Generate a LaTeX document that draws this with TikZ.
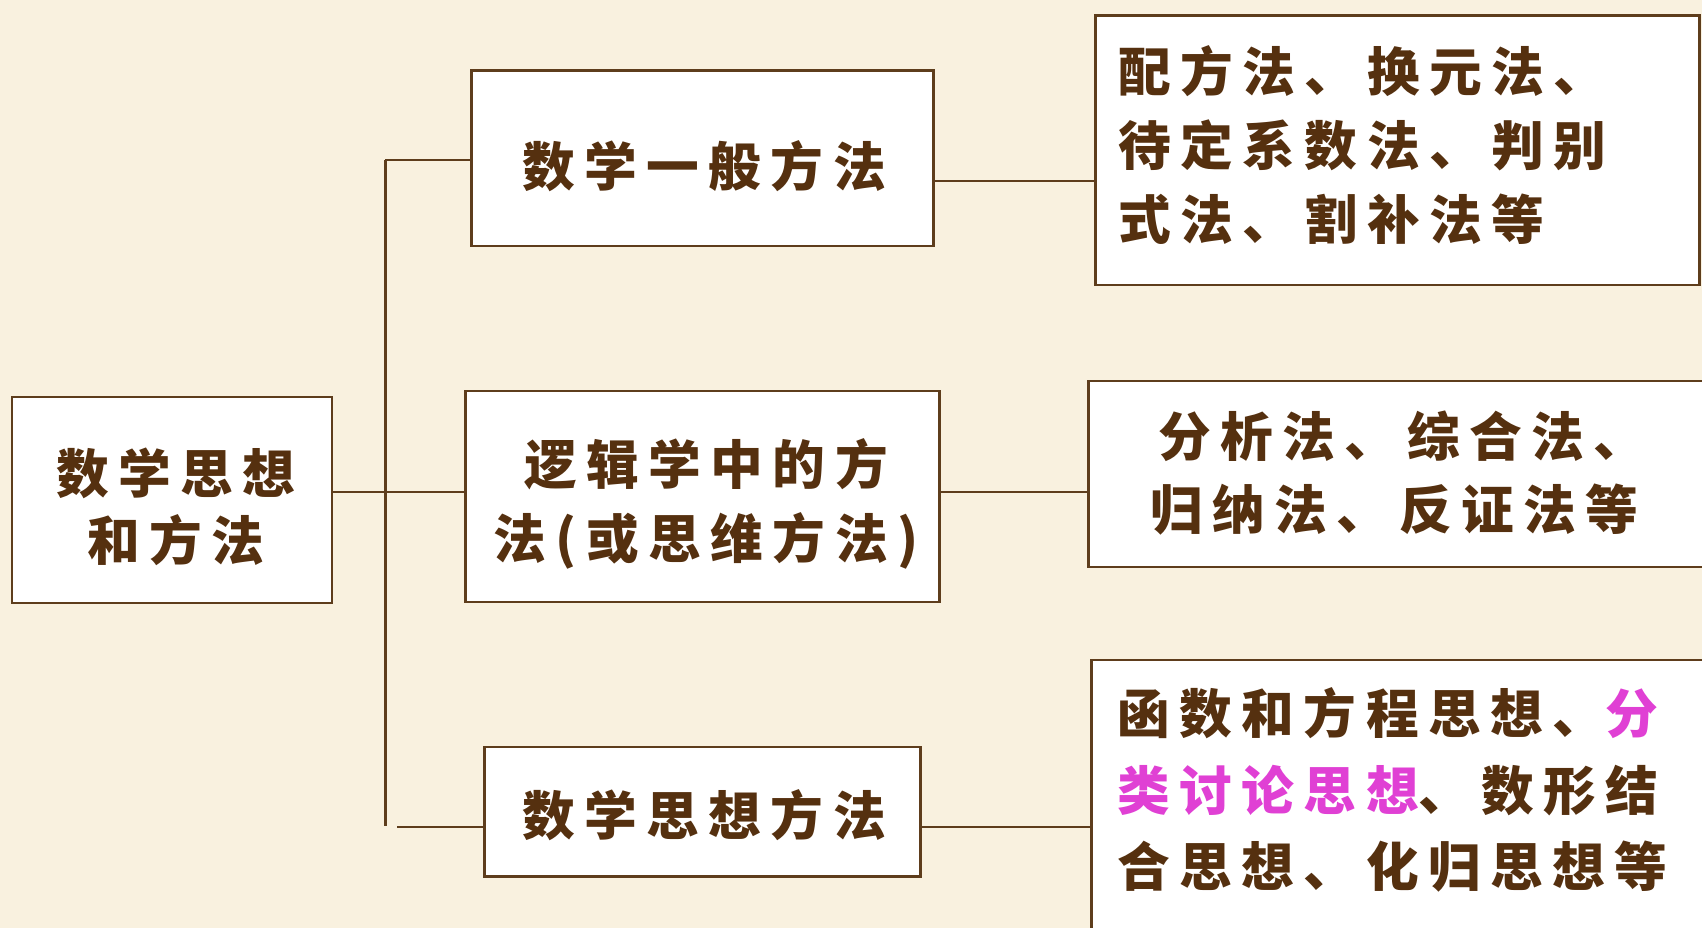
\documentclass[tikz,border=0pt]{standalone}
\usepackage{fontspec}
\usetikzlibrary{fit}
\newfontfamily\cjk[LetterSpace=18]{Noto Sans CJK SC}
\definecolor{bg}{HTML}{F9F1DF}
\definecolor{ln}{HTML}{5E3D1C}
\definecolor{tx}{HTML}{55300F}
\definecolor{mg}{HTML}{E040D4}
\tikzset{
  boxst/.style={draw=ln, fill=white, line width=1.7pt, inner sep=0pt},
  txt/.style={inner sep=0pt, text=tx, font=\cjk\bfseries\fontsize{30}{42}\selectfont},
  conn/.style={draw=ln, line width=1.7pt}
}
\begin{document}
\begin{tikzpicture}[x=0.02cm, y=-0.02cm]
\useasboundingbox (0,0) rectangle (1702,928);
\fill[bg] (0,0) rectangle (1702,928);
\clip (0,0) rectangle (1702,928);
% boxes
\node[boxst, fit={(12,397) (332,603)}] (root) {};
\node[boxst, fit={(471,71) (933,246)}] (b1) {};
\node[boxst, fit={(465,391) (939,602)}] (b2) {};
\node[boxst, fit={(484,747) (920,876)}] (b3) {};
\node[boxst, fit={(1095,16) (1699,285)}] (r1) {};
\node[boxst, fit={(1088,381) (1730,567)}] (r2) {};
\node[boxst, fit={(1091,660) (1730,960)}] (r3) {};
% junction coordinates
\coordinate (tTop) at (385,160);
\coordinate (tBot) at (385,826);
\coordinate (tMid) at (385,492);
\coordinate (bStart) at (397,827);
\coordinate (y1) at (0,181);
% connectors
\draw[conn] (tTop) -- (tBot);
\draw[conn] (tTop) -- (b1.west |- tTop);
\draw[conn] (root.east |- tMid) -- (b2.west |- tMid);
\draw[conn] (bStart) -- (b3.west |- bStart);
\draw[conn] (b1.east |- y1) -- (r1.west |- y1);
\draw[conn] (b2.east |- tMid) -- (r2.west |- tMid);
\draw[conn] (b3.east |- bStart) -- (r3.west |- bStart);
% texts
\node[txt, align=center, font=\cjk\bfseries\fontsize{30}{38.5}\selectfont] (troot) at (176,507) {数学思想\\和方法};
\node[txt] (tb1) at (704,166) {数学一般方法};
\node[txt, align=center] (tb2) at (706,504) {逻辑学中的方\\法(或思维方法)};
\node[txt] (tb3) at (704,815) {数学思想方法};
\node[txt, anchor=west, align=left] (tr1) at (1118,145) {配方法、换元法、\\待定系数法、判别\\式法、割补法等};
\node[txt, anchor=west, align=left] (tr2) at (1150,473) {\hspace{0.16cm}分析法、综合法、\\归纳法、反证法等};
\node[txt, anchor=west, align=left, font=\cjk\bfseries\fontsize{30}{43.5}\selectfont] (tr3) at (1117,790) {函数和方程思想、\textcolor{mg}{分}\\\textcolor{mg}{类讨论思想}、数形结\\合思想、化归思想等};
\end{tikzpicture}
\end{document}
